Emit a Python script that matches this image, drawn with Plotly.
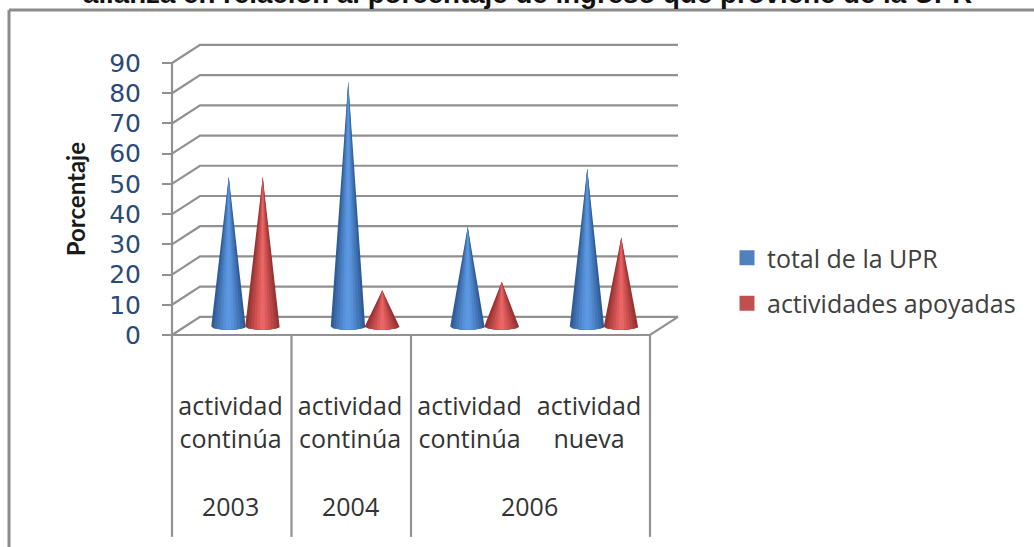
import numpy as np
import plotly.graph_objects as go

W, H = 1034, 547
activities = ["actividad<br>continúa", "actividad<br>continúa", "actividad<br>continúa", "actividad<br>nueva"]
years = ["2003", "2004", "2006"]
year_positions = [0.49, 1.49, 2.99]
group_edges = [0, 1, 2, 4]
total_upr = [49.6, 81, 33, 52.3]
actividades = [49.5, 12, 14.8, 29.5]
y_ticks = list(range(0, 100, 10))
blue_shades = ["#2f5c96", "#3a6aa8", "#4477b8", "#4e84c8", "#5690d8", "#5c98e2"]
red_shades = ["#983232", "#a83c3c", "#b84646", "#cc5050", "#dc5a5a", "#ea6666"]

PX_X, PX_Y = 119.5, 3.022      # pixels per axis unit
X0, Y0 = 172, 335              # pixel position of the axis origin
x_range = [-X0 / PX_X, (W - X0) / PX_X]
y_range = [-(H - Y0) / PX_Y, Y0 / PX_Y]
depth_x, depth_y = 28 / PX_X, 6.0
offset, half_w, half_h = 17 / PX_X, 17.5 / PX_X, 3.2 / PX_Y
base_y = 2.8
fractions = [1.0, 0.85, 0.7, 0.52, 0.34, 0.16]
GRID = "#919191"
TEXT_FONT = "Open Sans"

fig = go.Figure()


def lines(xs, ys, width=2.2, color=GRID):
    fig.add_trace(go.Scatter(x=xs, y=ys, mode="lines", showlegend=False, hoverinfo="skip",
                             line=dict(color=color, width=width)))


gx, gy = [], []
for v in y_ticks:
    gx += [0, depth_x, 4 + depth_x, None]
    gy += [v, v + depth_y, v + depth_y, None]
lines(gx, gy)
lines([0, 4, 4 + depth_x], [0, 0, depth_y])
lines([0, 0], [0, 90])
dx, dy = [], []
for e in group_edges:
    dx += [e, e, None]
    dy += [0, -66.8, None]
lines(dx, dy)


def cones(values, side, shades, name):
    t = np.linspace(0, np.pi, 25)
    for frac, color in zip(fractions, shades):
        xs, ys = [], []
        for i, v in enumerate(values):
            c = i + 0.5 + depth_x / 2 + side * offset
            ax = c + frac * half_w * np.cos(t)
            ay = base_y - half_h * np.sqrt(1 - (frac * np.cos(t)) ** 2)
            xs += [c] + ax.tolist() + [c, None]
            ys += [base_y + v] + ay.tolist() + [base_y + v, None]
        fig.add_trace(go.Scatter(x=xs, y=ys, mode="lines", fill="toself", fillcolor=color,
                                 line=dict(width=0), showlegend=False, hoverinfo="skip", name=name))


cones(total_upr, -1, blue_shades, "total de la UPR")
cones(actividades, 1, red_shades, "actividades apoyadas")

for name, color, grp in [("total de la UPR", "#4f81bd", "a"), ("actividades apoyadas", "#c0504d", "b")]:
    fig.add_trace(go.Scatter(x=[None], y=[None], mode="markers", name=name, legendgroup=grp,
                             marker=dict(symbol="square", size=15, color=color)))

fig.add_annotation(x=-0.81, y=45, text="<b>Porcentaje</b>", textangle=-90, showarrow=False,
                   xref="x", yref="y", font=dict(family="Lato", size=24, color="#1a1a1a"))
for year, pos in zip(years, year_positions):
    fig.add_annotation(x=pos, y=-56.5, text=year, showarrow=False, xref="x", yref="y",
                       font=dict(family=TEXT_FONT, size=25, color="#333333"))
fig.add_annotation(x=527 / W, y=1 + 7 / H, xref="paper", yref="paper", yanchor="middle", showarrow=False,
                   text="<b>alianza en relación al porcentaje de ingreso que proviene de la UPR</b>",
                   font=dict(family="Liberation Sans", size=27.7, color="#111111"))

fig.update_layout(
    width=W, height=H, margin=dict(l=0, r=0, t=0, b=0),
    plot_bgcolor="white", paper_bgcolor="white",
    xaxis=dict(range=x_range, fixedrange=True, showgrid=False, zeroline=False,
               tickmode="array", tickvals=[i + 0.49 for i in range(4)], ticktext=activities,
               ticks="", anchor="free", position=1 - Y0 / H, side="bottom", ticklabelstandoff=54,
               tickfont=dict(family=TEXT_FONT, size=25, color="#333333")),
    yaxis=dict(range=y_range, fixedrange=True, showgrid=False, zeroline=False,
               tickmode="array", tickvals=y_ticks, ticks="outside", ticklen=10, tickwidth=2.2,
               tickcolor=GRID, anchor="free", position=X0 / W, side="left", ticklabelstandoff=16,
               tickfont=dict(family="DejaVu Sans", size=25, color="#2a4a78")),
    legend=dict(x=727 / W, y=1 - 235 / H, xanchor="left", yanchor="top", tracegroupgap=10,
                font=dict(family=TEXT_FONT, size=25, color="#404040"), bgcolor="rgba(0,0,0,0)"),
    shapes=[
        dict(type="line", xref="paper", yref="paper", x0=9 / W, x1=1, y0=1 - 10 / H, y1=1 - 10 / H,
             line=dict(color="#8c8c8c", width=3)),
        dict(type="line", xref="paper", yref="paper", x0=9 / W, x1=9 / W, y0=0, y1=1 - 10 / H,
             line=dict(color="#8c8c8c", width=3)),
    ],
)
fig.write_html("out.html", config={"displayModeBar": False},
               post_script="document.body.style.margin='0';document.body.style.overflow='hidden';")
